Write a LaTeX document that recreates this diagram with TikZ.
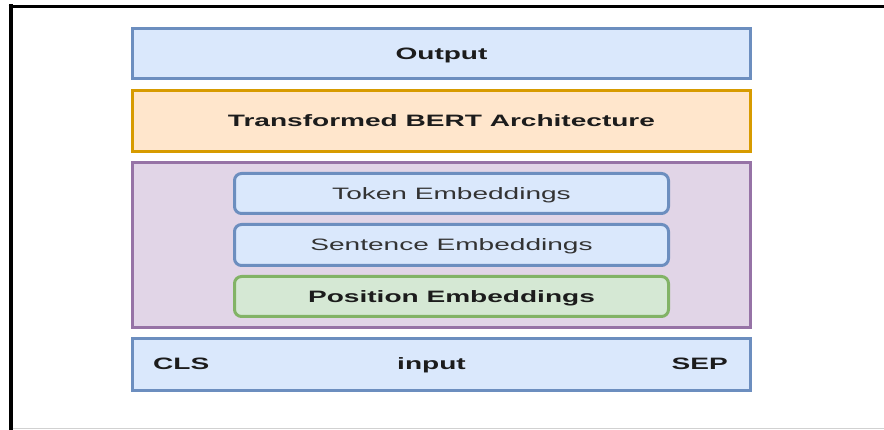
\documentclass[tikz,border=0pt]{standalone}
\usepackage{fontspec}
\setmainfont[FakeStretch=1.7]{Liberation Sans}
\usepackage{xcolor}
\usepackage{tikz}
\usetikzlibrary{positioning}

\definecolor{blueFill}{HTML}{DAE8FC}
\definecolor{blueLine}{HTML}{6C8EBF}
\definecolor{orangeFill}{HTML}{FFE6CC}
\definecolor{orangeLine}{HTML}{D79B00}
\definecolor{purpleFill}{HTML}{E1D5E7}
\definecolor{purpleLine}{HTML}{9673A6}
\definecolor{greenFill}{HTML}{D5E8D4}
\definecolor{greenLine}{HTML}{82B366}
\definecolor{textDark}{HTML}{1C1C1C}

\begin{document}
\begin{tikzpicture}[
    x=1pt, y=-1pt,
    layerbox/.style={rectangle, line width=3pt, minimum width=618pt, inner sep=0pt,
        text height=12pt, text depth=0pt,
        font=\fontsize{16.5}{18}\selectfont\bfseries, text=textDark},
    embbox/.style={rectangle, rounded corners=7pt, line width=3pt, minimum width=434pt,
        minimum height=40pt, inner sep=0pt, text height=12pt, text depth=0pt,
        font=\fontsize{16.5}{18}\selectfont, text=black!80},
    tokenlabel/.style={inner sep=0pt, text height=12pt, text depth=0pt,
        font=\fontsize{16.5}{18}\selectfont\bfseries, text=textDark}
]
\useasboundingbox (0,0) rectangle (884,430);

% frame
\draw[line width=4pt, black] (10.5,430) -- (10.5,4.5);
\draw[line width=3pt, black] (8.5,6.5) -- (884,6.5);
\draw[line width=1.5pt, black!18] (12.5,428.5) -- (884,428.5);

% main stack
\node[layerbox, draw=blueLine, fill=blueFill, minimum height=50pt](out) at (441.5,53.5){Output};
\node[layerbox, draw=orangeLine, fill=orangeFill, minimum height=61pt](arch)[below = 9pt of out]{Transformed BERT Architecture};
\node[layerbox, draw=purpleLine, fill=purpleFill, minimum height=165pt](emb)[below = 8pt of arch]{};
\node[layerbox, draw=blueLine, fill=blueFill, minimum height=52pt](inp)[below = 8pt of emb]{};

% embeddings
\node[embbox, draw=blueLine, fill=blueFill](tok) at (451.5,193.5){Token Embeddings};
\node[embbox, draw=blueLine, fill=blueFill, minimum height=41pt](sen)[below = 8pt of tok]{Sentence Embeddings};
\node[embbox, draw=greenLine, fill=greenFill, font=\fontsize{16.5}{18}\selectfont\bfseries, text=textDark](pos)[below = 8pt of sen]{Position Embeddings};

% input tokens
\node[tokenlabel, anchor=west](cls) at ([xshift=22pt, yshift=1pt]inp.west){CLS};
\node[tokenlabel](word) at ([xshift=-10pt, yshift=1pt]inp.center){input};
\node[tokenlabel, anchor=east](sep) at ([xshift=-24pt, yshift=1pt]inp.east){SEP};
\end{tikzpicture}
\end{document}
